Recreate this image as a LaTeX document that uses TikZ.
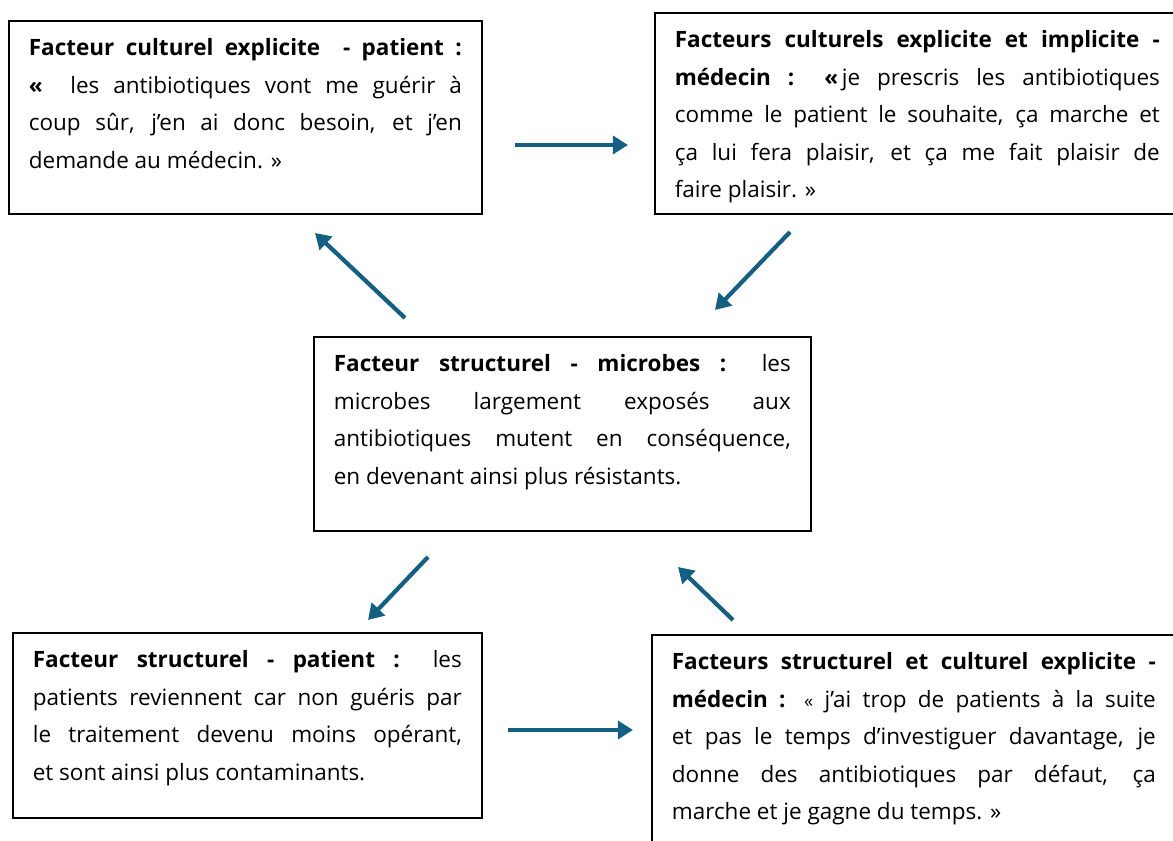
\documentclass[tikz,border=0pt]{standalone}
\usepackage{fontspec}
\setmainfont{Open Sans}
\usetikzlibrary{arrows.meta}
\definecolor{flowblue}{RGB}{21,96,130}

\begin{document}
\begin{tikzpicture}[
		factbox/.style={draw, line width=1.2pt, anchor=north west, align=justify,
			inner xsep=0.5cm, inner ysep=0.45cm, text height=0.425cm,
			font=\fontsize{16}{26.7}\selectfont},
		flow/.style={draw=flowblue, line width=3pt, -{Triangle[length=0.38cm,width=0.45cm]}}]
			\useasboundingbox (0,0) rectangle (29.325,21.025);
			\node[factbox, text width=10.825cm, text depth=3.5cm] (patcult) at (0.2,20.525) {\hyphenpenalty=10000
				\textbf{Facteur culturel explicite\ \ - patient :}\linebreak
				\textbf{«}\ \ les antibiotiques vont me guérir à\linebreak
				coup sûr, j’en ai donc besoin, et j’en\linebreak
				demande au médecin. »};
			\node[factbox, text width=12.125cm, text depth=3.7cm] (medcult) at (16.35,20.725) {\hyphenpenalty=10000
				\textbf{Facteurs culturels explicite et implicite -}\linebreak
				\textbf{médecin : «}\,je prescris les antibiotiques\linebreak
				comme le patient le souhaite, ça marche et\linebreak
				ça lui fera plaisir, et ça me fait plaisir de\linebreak
				faire plaisir. »};
			\node[factbox, text width=11.425cm, text depth=3.525cm] (microbes) at (7.825,12.625) {\hyphenpenalty=10000
				\textbf{Facteur structurel - microbes :} les\linebreak
				microbes largement exposés aux\linebreak
				antibiotiques mutent en conséquence,\linebreak
				en devenant ainsi plus résistants.};
			\node[factbox, text width=10.725cm, text depth=3.3cm] (patstruct) at (0.3,5.225) {\hyphenpenalty=10000
				\textbf{Facteur structurel - patient :} les\linebreak
				patients reviennent car non guéris par\linebreak
				le traitement devenu moins opérant,\linebreak
				et sont ainsi plus contaminants.};
			\node[factbox, text width=12.1cm, text depth=4.3cm] (medstruct) at (16.275,5.175) {\hyphenpenalty=10000
				\textbf{Facteurs structurel et culturel explicite -}\linebreak
				\textbf{médecin :} {\fontsize{13}{26.7}\selectfont«} j’ai trop de patients à la suite\linebreak
				et pas le temps d’investiguer davantage, je\linebreak
				donne des antibiotiques par défaut, ça\linebreak
				marche et je gagne du temps. »};
			% arrow ends
			\coordinate (a1s) at (12.875,17.4); \coordinate (a1e) at (15.7,17.4);
			\coordinate (a2s) at (19.75,15.225); \coordinate (a2e) at (17.875,13.275);
			\coordinate (a3s) at (10.125,13.075); \coordinate (a3e) at (7.875,15.2);
			\coordinate (a4s) at (10.7,7.1); \coordinate (a4e) at (9.2,5.525);
			\coordinate (a5s) at (12.7,2.775); \coordinate (a5e) at (15.825,2.775);
			\coordinate (a6s) at (18.325,5.525); \coordinate (a6e) at (16.95,6.85);
			\draw[flow] (a1s) -- (a1e); \draw[flow] (a2s) -- (a2e); \draw[flow] (a3s) -- (a3e);
			\draw[flow] (a4s) -- (a4e); \draw[flow] (a5s) -- (a5e); \draw[flow] (a6s) -- (a6e);
		\end{tikzpicture}
\end{document}
